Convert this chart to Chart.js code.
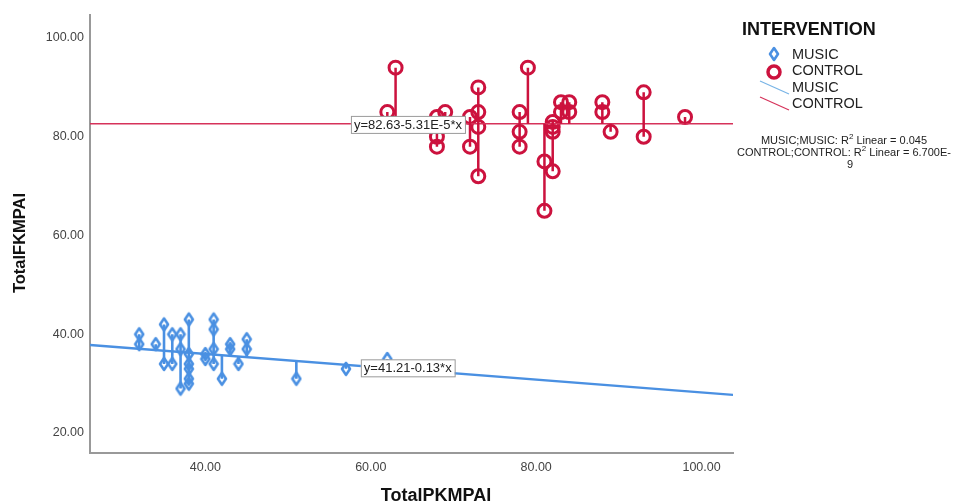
<!DOCTYPE html>
<html lang="en">
<head>
<meta charset="UTF-8">
<title>TotalFKMPAI vs TotalPKMPAI</title>
<script src="https://cdn.jsdelivr.net/npm/chart.js@4.4.0/dist/chart.umd.min.js"></script>
<style>
  body { margin: 0; background: #fff; }
  #wrap { width: 967px; height: 504px; }
</style>
</head>
<body>
<div id="wrap"><canvas id="myChart" width="967" height="504"></canvas></div>
<script>
// data
var musicX = [32, 32, 34, 35, 35, 36, 36, 37, 37, 37, 38, 38, 38, 38, 38, 38, 40, 40, 41, 41, 41, 41, 42, 43, 43, 44, 45, 45, 51, 57, 62];
var musicY = [40, 38, 38, 42, 34, 40, 34, 37, 29, 40, 43, 36, 33, 31, 30, 34, 36, 35, 43, 41, 37, 34, 31, 38, 37, 34, 39, 37, 31, 33, 35];
var controlX = [62, 63, 68, 68, 68, 69, 72, 72, 73, 73, 73, 73, 78, 78, 78, 79, 81, 81, 82, 82, 82, 82, 83, 84, 83, 84, 88, 88, 89, 93, 93, 98];
var controlY = [85, 94, 84, 80, 78, 85, 84, 78, 90, 85, 82, 72, 85, 81, 78, 94, 75, 65, 83, 82, 81, 73, 87, 87, 85, 85, 87, 85, 81, 89, 80, 84];
var musicFit = [41.21, -0.13];
var controlFit = [82.63, -5.31E-5];
var xTicks = [40, 60, 80, 100];
var yTicks = [20, 40, 60, 80, 100];
var xMin = 26.05, xMax = 103.8, yMin = 15.95, yMax = 104.66;

var blue = 'rgb(74,144,226)';
var red = 'rgb(204,18,62)';
var redLine = 'rgb(214,50,90)';
var font = '"Liberation Sans", Arial, sans-serif';

// tall hollow diamond like the SPSS marker
function f_diamond() {
    var c = document.createElement('canvas');
    c.width = 12; c.height = 16;
    var g = c.getContext('2d');
    g.strokeStyle = blue;
    g.lineWidth = 2.6;
    g.lineJoin = 'round';
    g.beginPath();
    g.moveTo(6, 2); g.lineTo(10, 8); g.lineTo(6, 14); g.lineTo(2, 8); g.closePath();
    g.stroke();
    return c;
}

function f_points(xs, ys) {
    return xs.map(function (x, i) { return { x: x, y: ys[i] }; });
}
function f_fit(c, x) { return c[0] + c[1] * x; }
function f_spikes(xs, ys, c) {
    var out = [];
    for (var i = 0; i < xs.length; i++) {
        out.push({ x: xs[i], y: ys[i] });
        out.push({ x: xs[i], y: f_fit(c, xs[i]) });
        out.push({ x: xs[i], y: null });
    }
    return out;
}
function f_line(c) {
    return [{ x: xMin, y: f_fit(c, xMin) }, { x: xMax, y: f_fit(c, xMax) }];
}

// legend, titles and equation boxes
var extras = {
    id: 'extras',
    afterDraw: function (chart) {
        var ctx = chart.ctx;
        var xs = chart.scales.x, ys = chart.scales.y;
        ctx.save();

        // equation labels
        function eqBox(text, xv, yv) {
            ctx.font = '13px ' + font;
            var w = ctx.measureText(text).width + 6;
            var px = xs.getPixelForValue(xv), py = ys.getPixelForValue(yv);
            ctx.fillStyle = '#fff';
            ctx.fillRect(px, py - 8.5, w, 17);
            ctx.strokeStyle = '#9a9a9a';
            ctx.lineWidth = 1;
            ctx.strokeRect(px + 0.5, py - 8.5, w, 17);
            ctx.fillStyle = '#222';
            ctx.textAlign = 'left';
            ctx.textBaseline = 'middle';
            ctx.fillText(text, px + 3, py + 0.5);
        }
        eqBox('y=82.63-5.31E-5*x', 57.6, 82.4);
        eqBox('y=41.21-0.13*x', 58.8, 33.1);

        // axis titles
        ctx.fillStyle = '#111';
        ctx.font = 'bold 18px ' + font;
        ctx.textAlign = 'center';
        ctx.textBaseline = 'middle';
        ctx.fillText('TotalPKMPAI', 436, 496);
        ctx.save();
        ctx.translate(20, 243);
        ctx.rotate(-Math.PI / 2);
        ctx.font = 'bold 16.5px ' + font;
        ctx.fillText('TotalFKMPAI', 0, 0);
        ctx.restore();

        // legend
        ctx.textAlign = 'left';
        ctx.fillStyle = '#111';
        ctx.font = 'bold 18px ' + font;
        ctx.fillText('INTERVENTION', 742, 30);

        ctx.font = '14.5px ' + font;
        ctx.fillStyle = '#222';
        ctx.fillText('MUSIC', 792, 55);
        ctx.fillText('CONTROL', 792, 71);
        ctx.fillText('MUSIC', 792, 88);
        ctx.fillText('CONTROL', 792, 104);

        // diamond
        ctx.drawImage(f_diamond(), 768, 46);
        // circle
        ctx.strokeStyle = red;
        ctx.lineWidth = 3.5;
        ctx.beginPath();
        ctx.arc(774, 72, 6, 0, Math.PI * 2);
        ctx.stroke();
        // lines
        ctx.lineWidth = 1.2;
        ctx.strokeStyle = 'rgb(120,180,230)';
        ctx.beginPath(); ctx.moveTo(760, 81); ctx.lineTo(789, 94); ctx.stroke();
        ctx.strokeStyle = redLine;
        ctx.beginPath(); ctx.moveTo(760, 97); ctx.lineTo(789, 110); ctx.stroke();

        // R2 notes
        ctx.fillStyle = '#222';
        var cx = 844;
        var big = '11px ' + font, small = '8px ' + font;
        function r2line(pre, post, y) {
            ctx.font = big;
            var w1 = ctx.measureText(pre).width;
            ctx.font = small;
            var w2 = ctx.measureText('2').width;
            ctx.font = big;
            var w3 = ctx.measureText(post).width;
            var start = cx - (w1 + w2 + w3) / 2;
            ctx.textAlign = 'left';
            ctx.fillText(pre, start, y);
            ctx.font = small;
            ctx.fillText('2', start + w1, y - 4);
            ctx.font = big;
            ctx.fillText(post, start + w1 + w2, y);
        }
        r2line('MUSIC;MUSIC: R', ' Linear = 0.045', 141);
        r2line('CONTROL;CONTROL: R', ' Linear = 6.700E-', 153);
        ctx.textAlign = 'center';
        ctx.fillText('9', cx + 6, 165);

        ctx.restore();
    }
};

const ctx = document.getElementById('myChart').getContext('2d');
const myChart = new Chart(ctx, {
    type: 'scatter',
    data: {
        datasets: [{
            type: 'line',
            label: 'music spikes',
            data: f_spikes(musicX, musicY, musicFit),
            borderColor: blue,
            borderWidth: 2.6,
            pointRadius: 0,
            spanGaps: false
        }, {
            type: 'line',
            label: 'control spikes',
            data: f_spikes(controlX, controlY, controlFit),
            borderColor: red,
            borderWidth: 2.5,
            pointRadius: 0,
            spanGaps: false
        }, {
            type: 'line',
            label: 'MUSIC fit',
            data: f_line(musicFit),
            borderColor: blue,
            borderWidth: 2.4,
            pointRadius: 0
        }, {
            type: 'line',
            label: 'CONTROL fit',
            data: f_line(controlFit),
            borderColor: redLine,
            borderWidth: 1.6,
            pointRadius: 0
        }, {
            label: 'MUSIC',
            data: f_points(musicX, musicY),
            pointStyle: f_diamond(),
            borderColor: blue
        }, {
            label: 'CONTROL',
            data: f_points(controlX, controlY),
            pointStyle: 'circle',
            pointRadius: 6.5,
            borderColor: red,
            backgroundColor: 'rgba(255,255,255,0)',
            borderWidth: 3
        }]
    },
    options: {
        responsive: false,
        animation: false,
        layout: { padding: { left: 0, right: 234, top: 15, bottom: 0 } },
        plugins: {
            legend: { display: false },
            tooltip: { enabled: false }
        },
        scales: {
            x: {
                type: 'linear',
                min: xMin,
                max: xMax,
                afterBuildTicks: function (s) { s.ticks = xTicks.map(function (v) { return { value: v }; }); },
                afterFit: function (s) { s.height = 51; },
                grid: { display: false, drawTicks: false },
                border: { display: true, color: '#999', width: 2 },
                ticks: {
                    padding: 7,
                    color: '#444',
                    font: { family: font, size: 12.5 },
                    callback: function (v) { return Number(v).toFixed(2); }
                }
            },
            y: {
                type: 'linear',
                min: yMin,
                max: yMax,
                afterBuildTicks: function (s) { s.ticks = yTicks.map(function (v) { return { value: v }; }); },
                afterFit: function (s) { s.width = 90; },
                grid: { display: false, drawTicks: false },
                border: { display: true, color: '#999', width: 2 },
                ticks: {
                    padding: 6,
                    color: '#444',
                    font: { family: font, size: 12.5 },
                    callback: function (v) { return Number(v).toFixed(2); }
                }
            }
        }
    },
    plugins: [extras]
});
</script>
</body>
</html>
